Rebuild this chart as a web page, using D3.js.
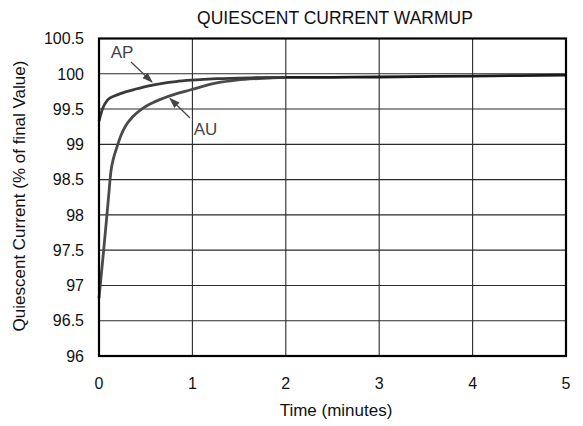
<!DOCTYPE html>
<html>
<head>
<meta charset="utf-8">
<script src="https://d3js.org/d3.v7.min.js"></script>
<style>
  body { margin: 0; background: #fff; }
  text { font-family: "Liberation Sans", Arial, sans-serif; }
</style>
</head>
<body>
<svg id="chart" width="583" height="426"></svg>
<script>
// ---- data ----
const xTicks = [0, 1, 2, 3, 4, 5];
const yTicks = [96, 96.5, 97, 97.5, 98, 98.5, 99, 99.5, 100, 100.5];

// AP amplifier, time in minutes
const apTime  = [0, 0.04, 0.093, 0.164, 0.254, 0.396, 0.535, 0.68, 0.824, 1.0, 1.26, 1.62, 2.0];
const apValue = [99.33, 99.51, 99.63, 99.685, 99.73, 99.784, 99.83, 99.865, 99.89, 99.91, 99.93, 99.943, 99.948];

// AU amplifier
const auTime  = [0, 0.05, 0.1, 0.128, 0.155, 0.182, 0.236, 0.289, 0.361, 0.468, 0.575, 0.682, 0.824, 0.974, 1.26, 1.47, 1.75, 2.0];
const auValue = [96.82, 97.5, 98.22, 98.62, 98.8, 98.92, 99.13, 99.27, 99.39, 99.51, 99.59, 99.65, 99.715, 99.77, 99.87, 99.91, 99.935, 99.948];

// both curves after they meet
const tailTime  = [2.0, 2.5, 3, 4, 5];
const tailValue = [99.948, 99.95, 99.954, 99.968, 99.982];

// ---- layout ----
const svg = d3.select("#chart");
const x = d3.scaleLinear().domain([0, 5]).range([99, 566]);
const y = d3.scaleLinear().domain([96, 100.5]).range([356, 38.5]);

// grid
svg.append("g").selectAll("line").data(yTicks.slice(1, -1))
  .join("line")
  .attr("x1", x(0)).attr("x2", x(5))
  .attr("y1", d => y(d)).attr("y2", d => y(d))
  .attr("stroke", "#2a2a2a").attr("stroke-width", 1.1);
svg.append("g").selectAll("line").data(xTicks.slice(1, -1))
  .join("line")
  .attr("y1", y(96)).attr("y2", y(100.5))
  .attr("x1", d => x(d)).attr("x2", d => x(d))
  .attr("stroke", "#2a2a2a").attr("stroke-width", 1.1);

// curves
const line = d3.line().x(d => x(d[0])).y(d => y(d[1])).curve(d3.curveMonotoneX);
svg.append("path").datum(d3.zip(auTime, auValue))
  .attr("d", line).attr("fill", "none")
  .attr("stroke", "#4a4a4a").attr("stroke-width", 2.8);
svg.append("path").datum(d3.zip(apTime, apValue))
  .attr("d", line).attr("fill", "none")
  .attr("stroke", "#3a3a3a").attr("stroke-width", 2.8);
svg.append("path").datum(d3.zip(tailTime, tailValue))
  .attr("d", line).attr("fill", "none")
  .attr("stroke", "#1a1a1a").attr("stroke-width", 2.8);

// frame
svg.append("rect")
  .attr("x", x(0)).attr("y", y(100.5))
  .attr("width", x(5) - x(0)).attr("height", y(96) - y(100.5))
  .attr("fill", "none").attr("stroke", "#000").attr("stroke-width", 2.2);

// axes labels
svg.append("g").selectAll("text").data(yTicks)
  .join("text")
  .attr("x", 84).attr("y", d => y(d))
  .attr("dy", "0.36em")
  .attr("text-anchor", "end")
  .attr("font-size", 16).attr("fill", "#111")
  .text(d => d);
svg.append("g").selectAll("text").data(xTicks)
  .join("text")
  .attr("x", d => x(d)).attr("y", 389)
  .attr("text-anchor", "middle")
  .attr("font-size", 16).attr("fill", "#111")
  .text(d => d);

svg.append("text")
  .attr("x", 336).attr("y", 416)
  .attr("text-anchor", "middle").attr("font-size", 17).attr("fill", "#111")
  .text("Time (minutes)");
svg.append("text")
  .attr("transform", "translate(25,196) rotate(-90)")
  .attr("text-anchor", "middle").attr("font-size", 17).attr("fill", "#111")
  .text("Quiescent Current (% of final Value)");
svg.append("text")
  .attr("x", 335).attr("y", 24)
  .attr("text-anchor", "middle").attr("font-size", 17.5).attr("fill", "#111")
  .text("QUIESCENT CURRENT WARMUP");

// annotations
const defs = svg.append("defs");
defs.append("marker").attr("id", "head")
  .attr("viewBox", "0 0 10 10").attr("refX", 9).attr("refY", 5)
  .attr("markerWidth", 9).attr("markerHeight", 9)
  .attr("orient", "auto")
  .append("path").attr("d", "M0,1.5 L10,5 L0,8.5 Z").attr("fill", "#444");

svg.append("line")
  .attr("x1", 131).attr("y1", 62).attr("x2", 152).attr("y2", 82)
  .attr("stroke", "#444").attr("stroke-width", 1.2).attr("marker-end", "url(#head)");
svg.append("line")
  .attr("x1", 190).attr("y1", 118).attr("x2", 170).attr("y2", 98.5)
  .attr("stroke", "#444").attr("stroke-width", 1.2).attr("marker-end", "url(#head)");
svg.append("text")
  .attr("x", 122).attr("y", 58)
  .attr("text-anchor", "middle").attr("font-size", 17).attr("fill", "#444")
  .text("AP");
svg.append("text")
  .attr("x", 205.5).attr("y", 135)
  .attr("text-anchor", "middle").attr("font-size", 17).attr("fill", "#444")
  .text("AU");
</script>
</body>
</html>
